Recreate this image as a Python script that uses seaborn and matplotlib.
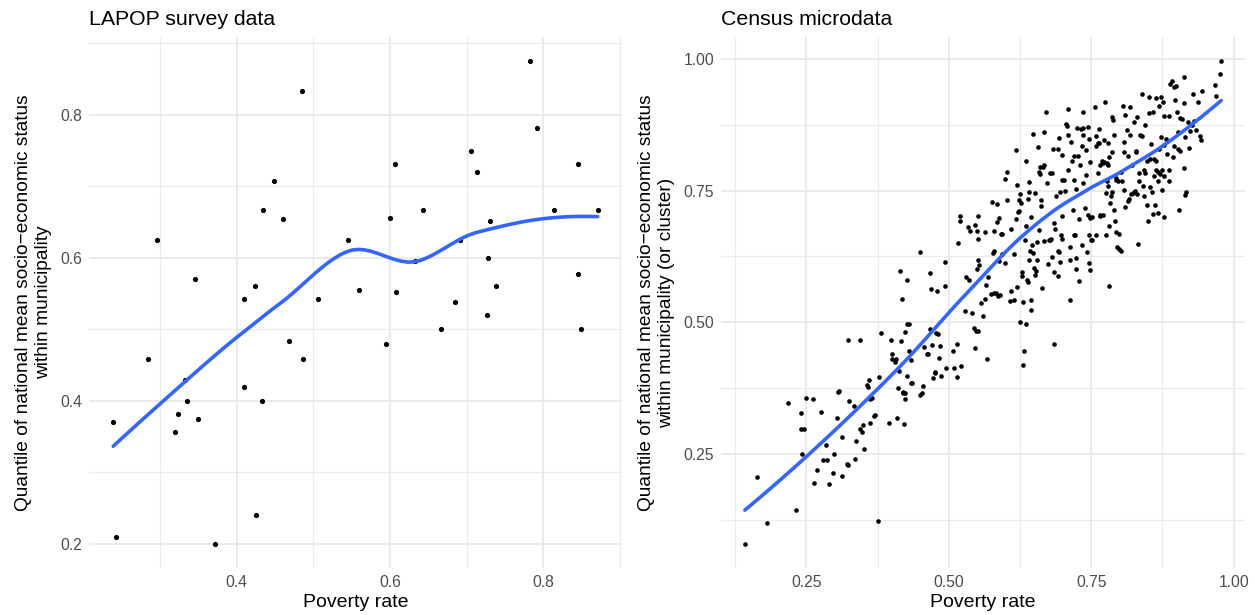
import numpy as np
import pandas as pd
import seaborn as sns
import matplotlib
matplotlib.use("Agg")
import matplotlib.pyplot as plt
from matplotlib.ticker import MultipleLocator, AutoMinorLocator, FormatStrFormatter

sns.set_theme(style="whitegrid")
plt.rcParams['font.family'] = ['Liberation Sans', 'DejaVu Sans']

# LAPOP survey data (municipality means)
lapop_poverty = [0.239, 0.242, 0.285, 0.296, 0.319, 0.323, 0.332, 0.335, 0.346, 0.349,
                 0.372, 0.409, 0.410, 0.424, 0.425, 0.433, 0.435, 0.449, 0.461, 0.468,
                 0.485, 0.486, 0.506, 0.545, 0.559, 0.595, 0.600, 0.607, 0.608, 0.633,
                 0.643, 0.666, 0.685, 0.691, 0.706, 0.714, 0.727, 0.728, 0.730, 0.738,
                 0.782, 0.792, 0.814, 0.845, 0.845, 0.849, 0.871]
lapop_quantile = [0.370, 0.210, 0.458, 0.625, 0.357, 0.381, 0.429, 0.400, 0.571, 0.375,
                  0.200, 0.419, 0.542, 0.560, 0.240, 0.400, 0.667, 0.708, 0.654, 0.483,
                  0.833, 0.458, 0.542, 0.625, 0.555, 0.480, 0.656, 0.731, 0.552, 0.595,
                  0.667, 0.500, 0.538, 0.625, 0.750, 0.720, 0.520, 0.600, 0.652, 0.560,
                  0.875, 0.782, 0.667, 0.731, 0.577, 0.500, 0.667]

# Census microdata (poverty rate, quantile)
census_points = [
    (0.142, 0.079), (0.181, 0.118), (0.164, 0.206), (0.231, 0.144), (0.218, 0.346), (0.240, 0.327),
    (0.240, 0.298), (0.245, 0.298), (0.243, 0.250), (0.249, 0.357), (0.262, 0.354), (0.275, 0.330),
    (0.268, 0.220), (0.264, 0.195), (0.284, 0.266), (0.279, 0.238), (0.287, 0.238), (0.289, 0.193),
    (0.298, 0.249), (0.296, 0.214), (0.303, 0.319), (0.305, 0.367), (0.307, 0.370), (0.313, 0.282),
    (0.313, 0.208), (0.321, 0.231), (0.323, 0.228), (0.323, 0.467), (0.324, 0.351), (0.334, 0.340),
    (0.335, 0.240), (0.337, 0.275), (0.345, 0.467), (0.345, 0.297), (0.347, 0.292), (0.350, 0.305),
    (0.351, 0.260), (0.356, 0.380), (0.358, 0.377), (0.360, 0.391), (0.362, 0.354), (0.365, 0.357),
    (0.362, 0.309), (0.369, 0.322), (0.371, 0.323), (0.375, 0.122), (0.378, 0.396), (0.381, 0.479),
    (0.395, 0.309), (0.399, 0.466), (0.400, 0.440), (0.401, 0.431), (0.405, 0.424), (0.408, 0.431),
    (0.409, 0.319), (0.411, 0.376), (0.412, 0.407), (0.415, 0.597), (0.416, 0.464), (0.417, 0.545),
    (0.419, 0.368), (0.420, 0.365), (0.423, 0.355), (0.424, 0.365), (0.422, 0.306), (0.423, 0.481),
    (0.427, 0.581), (0.427, 0.496), (0.430, 0.497), (0.427, 0.397), (0.433, 0.384), (0.431, 0.445),
    (0.434, 0.428), (0.436, 0.385), (0.449, 0.633), (0.449, 0.362), (0.453, 0.365), (0.454, 0.378),
    (0.456, 0.453), (0.462, 0.440), (0.464, 0.440), (0.467, 0.593), (0.467, 0.487), (0.468, 0.564),
    (0.470, 0.457), (0.472, 0.394), (0.475, 0.403), (0.476, 0.406), (0.478, 0.480), (0.479, 0.559),
    (0.481, 0.478), (0.483, 0.432), (0.484, 0.454), (0.486, 0.397), (0.494, 0.569), (0.494, 0.615),
    (0.495, 0.414), (0.508, 0.445), (0.509, 0.413), (0.515, 0.459), (0.515, 0.396), (0.516, 0.650),
    (0.520, 0.702), (0.520, 0.692), (0.522, 0.416), (0.528, 0.522), (0.531, 0.586), (0.534, 0.681),
    (0.536, 0.580), (0.538, 0.674), (0.541, 0.518), (0.544, 0.489), (0.546, 0.684), (0.546, 0.452),
    (0.548, 0.483), (0.552, 0.483), (0.550, 0.601), (0.551, 0.619), (0.551, 0.701), (0.553, 0.609),
    (0.550, 0.674), (0.552, 0.659), (0.557, 0.536), (0.560, 0.512), (0.563, 0.672), (0.564, 0.544),
    (0.565, 0.571), (0.567, 0.431), (0.568, 0.586), (0.574, 0.553), (0.575, 0.729), (0.579, 0.556),
    (0.583, 0.556), (0.579, 0.635), (0.577, 0.632), (0.580, 0.673), (0.584, 0.690), (0.585, 0.724),
    (0.586, 0.550), (0.589, 0.552), (0.588, 0.616), (0.588, 0.698), (0.591, 0.668), (0.594, 0.667),
    (0.594, 0.630), (0.598, 0.773), (0.599, 0.613), (0.602, 0.786), (0.602, 0.732), (0.608, 0.540),
    (0.609, 0.677), (0.609, 0.560), (0.614, 0.542), (0.615, 0.630), (0.618, 0.827), (0.620, 0.760),
    (0.618, 0.697), (0.619, 0.567), (0.621, 0.710), (0.624, 0.711), (0.623, 0.732), (0.625, 0.743),
    (0.625, 0.500), (0.626, 0.726), (0.628, 0.596), (0.629, 0.588), (0.630, 0.539), (0.632, 0.446),
    (0.630, 0.419), (0.633, 0.657), (0.636, 0.683), (0.636, 0.496), (0.636, 0.807), (0.638, 0.580),
    (0.639, 0.577), (0.639, 0.735), (0.640, 0.766), (0.641, 0.748), (0.641, 0.619), (0.642, 0.636),
    (0.644, 0.523), (0.644, 0.542), (0.644, 0.700), (0.646, 0.647), (0.648, 0.857), (0.648, 0.631),
    (0.649, 0.604), (0.651, 0.745), (0.651, 0.589), (0.653, 0.597), (0.654, 0.619), (0.655, 0.652),
    (0.657, 0.833), (0.658, 0.786), (0.659, 0.675), (0.660, 0.782), (0.660, 0.794), (0.661, 0.721),
    (0.662, 0.733), (0.663, 0.565), (0.666, 0.795), (0.667, 0.799), (0.667, 0.862), (0.667, 0.655),
    (0.670, 0.900), (0.672, 0.764), (0.674, 0.610), (0.675, 0.657), (0.678, 0.784), (0.681, 0.784),
    (0.678, 0.656), (0.680, 0.658), (0.682, 0.624), (0.683, 0.830), (0.684, 0.595), (0.684, 0.458),
    (0.685, 0.689), (0.687, 0.677), (0.688, 0.739), (0.691, 0.830), (0.691, 0.588), (0.691, 0.635),
    (0.693, 0.634), (0.694, 0.850), (0.695, 0.748), (0.696, 0.614), (0.697, 0.666), (0.698, 0.659),
    (0.698, 0.702), (0.698, 0.770), (0.702, 0.770), (0.699, 0.818), (0.704, 0.750), (0.705, 0.876),
    (0.708, 0.872), (0.709, 0.906), (0.709, 0.855), (0.709, 0.790), (0.712, 0.643), (0.713, 0.542),
    (0.713, 0.618), (0.715, 0.842), (0.717, 0.807), (0.718, 0.714), (0.719, 0.666), (0.720, 0.815),
    (0.720, 0.770), (0.722, 0.665), (0.723, 0.753), (0.724, 0.601), (0.724, 0.622), (0.725, 0.869),
    (0.726, 0.816), (0.728, 0.579), (0.729, 0.697), (0.730, 0.799), (0.732, 0.867), (0.733, 0.834),
    (0.734, 0.647), (0.736, 0.869), (0.735, 0.855), (0.736, 0.899), (0.736, 0.765), (0.739, 0.717),
    (0.740, 0.779), (0.741, 0.828), (0.743, 0.634), (0.744, 0.871), (0.745, 0.704), (0.747, 0.699),
    (0.746, 0.848), (0.746, 0.665), (0.746, 0.612), (0.748, 0.600), (0.748, 0.804), (0.750, 0.656),
    (0.751, 0.700), (0.752, 0.656), (0.757, 0.909), (0.758, 0.854), (0.758, 0.666), (0.759, 0.835),
    (0.761, 0.784), (0.762, 0.840), (0.763, 0.841), (0.763, 0.868), (0.765, 0.702), (0.765, 0.798),
    (0.766, 0.704), (0.769, 0.807), (0.770, 0.803), (0.771, 0.703), (0.772, 0.846), (0.772, 0.805),
    (0.774, 0.919), (0.776, 0.746), (0.776, 0.665), (0.777, 0.769), (0.779, 0.758), (0.778, 0.803),
    (0.779, 0.799), (0.780, 0.841), (0.782, 0.568), (0.782, 0.683), (0.782, 0.813), (0.783, 0.727),
    (0.785, 0.740), (0.786, 0.748), (0.786, 0.889), (0.787, 0.823), (0.789, 0.885), (0.790, 0.713),
    (0.790, 0.855), (0.792, 0.693), (0.793, 0.774), (0.794, 0.672), (0.794, 0.771), (0.796, 0.643),
    (0.797, 0.768), (0.798, 0.668), (0.799, 0.640), (0.802, 0.635), (0.803, 0.785), (0.804, 0.768),
    (0.806, 0.911), (0.807, 0.842), (0.807, 0.824), (0.808, 0.752), (0.809, 0.719), (0.810, 0.893),
    (0.812, 0.866), (0.814, 0.815), (0.815, 0.731), (0.817, 0.734), (0.818, 0.908), (0.818, 0.855),
    (0.819, 0.743), (0.821, 0.799), (0.823, 0.746), (0.826, 0.750), (0.825, 0.880), (0.828, 0.824),
    (0.829, 0.826), (0.830, 0.889), (0.831, 0.743), (0.832, 0.649), (0.833, 0.784), (0.834, 0.769),
    (0.836, 0.855), (0.839, 0.934), (0.839, 0.853), (0.840, 0.758), (0.842, 0.739), (0.843, 0.789),
    (0.845, 0.784), (0.845, 0.874), (0.847, 0.723), (0.848, 0.806), (0.850, 0.693), (0.851, 0.928),
    (0.851, 0.897), (0.853, 0.811), (0.854, 0.757), (0.855, 0.839), (0.856, 0.748), (0.858, 0.706),
    (0.859, 0.899), (0.860, 0.810), (0.864, 0.807), (0.861, 0.777), (0.862, 0.722), (0.864, 0.926),
    (0.864, 0.789), (0.867, 0.786), (0.867, 0.707), (0.868, 0.768), (0.869, 0.910), (0.869, 0.830),
    (0.871, 0.781), (0.872, 0.927), (0.873, 0.852), (0.874, 0.752), (0.875, 0.790), (0.876, 0.918),
    (0.877, 0.836), (0.878, 0.700), (0.878, 0.892), (0.878, 0.777), (0.881, 0.849), (0.883, 0.819),
    (0.886, 0.768), (0.887, 0.789), (0.887, 0.891), (0.888, 0.952), (0.891, 0.958), (0.893, 0.813),
    (0.895, 0.946), (0.895, 0.835), (0.897, 0.922), (0.898, 0.949), (0.900, 0.900), (0.903, 0.830),
    (0.905, 0.826), (0.903, 0.862), (0.904, 0.713), (0.906, 0.888), (0.910, 0.886), (0.912, 0.965),
    (0.912, 0.793), (0.913, 0.917), (0.914, 0.742), (0.917, 0.748), (0.915, 0.852), (0.919, 0.880),
    (0.921, 0.831), (0.923, 0.863), (0.927, 0.874), (0.929, 0.934), (0.931, 0.883), (0.933, 0.866),
    (0.937, 0.919), (0.941, 0.853), (0.942, 0.847), (0.945, 0.939), (0.967, 0.951), (0.969, 0.930),
    (0.976, 0.971), (0.978, 0.996),
]

x_label = "Poverty rate"
y_label_lapop = "Quantile of national mean socio\u2212economic status\nwithin municipality"
y_label_census = "Quantile of national mean socio\u2212economic status\nwithin municipality (or cluster)"


def local_fit(x, y, x0, q):
    d = np.abs(x - x0)
    h = np.sort(d)[q - 1]
    w = np.clip(1 - (d / h) ** 3, 0, None) ** 3
    X = np.column_stack([np.ones_like(x), x - x0, (x - x0) ** 2])
    sw = np.sqrt(w)
    beta = np.linalg.lstsq(X * sw[:, None], y * sw, rcond=None)[0]
    return beta[0], beta[1]


def kd_vertices(xs, fc, lo, hi, out):
    # split cells at the median until each holds few enough points
    if len(xs) <= fc:
        return
    m = np.median(xs)
    out.append(m)
    kd_vertices(xs[xs <= m], fc, lo, m, out)
    kd_vertices(xs[xs > m], fc, m, hi, out)


def loess(x, y, span=0.75, n_out=80):
    # loess (degree 2, tricube) evaluated on kd-tree vertices and joined
    # with cubic Hermite pieces, as R's surface = "interpolate" does
    x = np.asarray(x, float)
    y = np.asarray(y, float)
    n = len(x)
    q = int(np.floor(n * span))
    fc = int(np.floor(n * span * 0.2))
    lo, hi = x.min(), x.max()
    marg = 0.005 * (hi - lo)
    verts = [lo - marg, hi + marg]
    kd_vertices(np.sort(x), fc, lo, hi, verts)
    verts = np.unique(verts)
    vals = np.array([local_fit(x, y, v, q) for v in verts])
    xs = np.linspace(lo, hi, n_out)
    ys = []
    for x0 in xs:
        i = np.clip(np.searchsorted(verts, x0) - 1, 0, len(verts) - 2)
        x1, x2 = verts[i], verts[i + 1]
        hstep = x2 - x1
        t = (x0 - x1) / hstep
        h00 = 2 * t**3 - 3 * t**2 + 1
        h10 = t**3 - 2 * t**2 + t
        h01 = -2 * t**3 + 3 * t**2
        h11 = t**3 - t**2
        ys.append(h00 * vals[i, 0] + h10 * hstep * vals[i, 1]
                  + h01 * vals[i + 1, 0] + h11 * hstep * vals[i + 1, 1])
    return pd.DataFrame({"x": xs, "y": ys})


def style_axes(ax, title, ylabel, step):
    ax.set_facecolor("white")
    ax.set_title(title, loc="left", fontsize=15.3, color="black", pad=9)
    ax.set_xlabel(x_label, fontsize=14, color="black", labelpad=3)
    ax.set_ylabel(ylabel, fontsize=13.8, color="black", labelpad=6)
    ax.xaxis.set_major_locator(MultipleLocator(step))
    ax.yaxis.set_major_locator(MultipleLocator(step))
    ax.xaxis.set_minor_locator(AutoMinorLocator(2))
    ax.yaxis.set_minor_locator(AutoMinorLocator(2))
    ax.grid(which="major", color="#EBEBEB", linewidth=1.5)
    ax.grid(which="minor", color="#EBEBEB", linewidth=0.8)
    ax.tick_params(which="both", length=0, labelsize=11.3, labelcolor="#4D4D4D", pad=5)
    for s in ax.spines.values():
        s.set_visible(False)
    ax.set_axisbelow(True)


def set_limits(ax, x, y):
    x = np.asarray(x)
    y = np.asarray(y)
    dx = (x.max() - x.min()) * 0.05
    dy = (y.max() - y.min()) * 0.05
    ax.set_xlim(x.min() - dx, x.max() + dx)
    ax.set_ylim(y.min() - dy, y.max() + dy)


fig = plt.figure(figsize=(12.55, 6.15), dpi=100)
fig.patch.set_facecolor("white")
ax1 = fig.add_axes([0.0709, 0.0764, 0.4247, 0.8634])
ax2 = fig.add_axes([0.5745, 0.0764, 0.4175, 0.8634])

# left panel
df1 = pd.DataFrame({"poverty": lapop_poverty, "quantile": lapop_quantile})
sns.scatterplot(data=df1, x="poverty", y="quantile", ax=ax1, color="black",
                s=14, linewidth=0, edgecolor=None)
fit1 = loess(df1["poverty"], df1["quantile"])
sns.lineplot(data=fit1, x="x", y="y", ax=ax1, color="#3366FF", linewidth=2.6)
set_limits(ax1, df1["poverty"], df1["quantile"])
style_axes(ax1, "LAPOP survey data", y_label_lapop, 0.2)

# right panel
df2 = pd.DataFrame(census_points, columns=["poverty", "quantile"])
sns.scatterplot(data=df2, x="poverty", y="quantile", ax=ax2, color="black",
                s=11, linewidth=0, edgecolor=None)
fit2 = loess(df2["poverty"], df2["quantile"])
sns.lineplot(data=fit2, x="x", y="y", ax=ax2, color="#3366FF", linewidth=2.6)
set_limits(ax2, df2["poverty"], df2["quantile"])
style_axes(ax2, "Census microdata", y_label_census, 0.25)
ax2.xaxis.set_major_formatter(FormatStrFormatter("%.2f"))
ax2.yaxis.set_major_formatter(FormatStrFormatter("%.2f"))

fig.savefig("out.png", dpi=100, facecolor="white")
